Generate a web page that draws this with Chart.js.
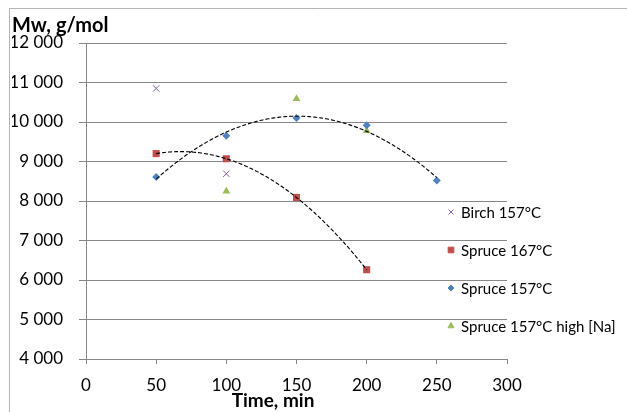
<!DOCTYPE html>
<html lang="en">
<head>
  <meta charset="UTF-8">
  <title>Mw vs time</title>
  <style>
    body { margin: 0; background: #fff; }
    #wrap { width: 627px; height: 412px; position: relative; }
  </style>
</head>
<body>
  <div id="wrap"><canvas id="mwChart"></canvas></div>

  <script src="https://cdn.jsdelivr.net/npm/chart.js"></script>
  <script>
    // Measured Mw (g/mol) against cooking time (min)
    const timeBirch157 = [50, 100];
    const mwBirch157 = [10850, 8690];

    const timeSpruce167 = [50, 100, 150, 200];
    const mwSpruce167 = [9200, 9070, 8090, 6260];

    const timeSpruce157 = [50, 100, 150, 200, 250];
    const mwSpruce157 = [8610, 9650, 10100, 9920, 8520];

    const timeSpruceNa = [100, 150, 200];
    const mwSpruceNa = [8250, 10590, 9780];

    const seriesNames = ['Birch 157°C', 'Spruce 167°C', 'Spruce 157°C', 'Spruce 157°C high [Na]'];
    const xTicks = [0, 50, 100, 150, 200, 250, 300];
    const yTicks = [4000, 5000, 6000, 7000, 8000, 9000, 10000, 11000, 12000];
    const xTitle = 'Time, min';

    const FONT = 'Lato, "Open Sans", sans-serif';
    const GRID = '#878787';

    const toPoints = (xs, ys) => xs.map((x, i) => ({ x: x, y: ys[i] }));
    const fmtThousands = v => String(v).replace(/\B(?=(\d{3})+(?!\d))/g, ' ');

    // least squares 2nd order polynomial, returns [a, b, c] for a + b x + c x^2
    function quadFit(xs, ys) {
      let n = xs.length, sx = 0, sx2 = 0, sx3 = 0, sx4 = 0, sy = 0, sxy = 0, sx2y = 0;
      for (let i = 0; i < n; i++) {
        const x = xs[i], y = ys[i];
        sx += x; sx2 += x * x; sx3 += x * x * x; sx4 += x * x * x * x;
        sy += y; sxy += x * y; sx2y += x * x * y;
      }
      const M = [[n, sx, sx2, sy], [sx, sx2, sx3, sxy], [sx2, sx3, sx4, sx2y]];
      for (let c = 0; c < 3; c++) {
        for (let r = c + 1; r < 3; r++) {
          const f = M[r][c] / M[c][c];
          for (let k = c; k < 4; k++) M[r][k] -= f * M[c][k];
        }
      }
      const s = [0, 0, 0];
      for (let r = 2; r >= 0; r--) {
        let v = M[r][3];
        for (let k = r + 1; k < 3; k++) v -= M[r][k] * s[k];
        s[r] = v / M[r][r];
      }
      return s;
    }

    const trends = [
      { xs: timeSpruce167, coef: quadFit(timeSpruce167, mwSpruce167) },
      { xs: timeSpruce157, coef: quadFit(timeSpruce157, mwSpruce157) }
    ];

    // dashed black trend curves, drawn through the chart scales
    const trendPlugin = {
      id: 'trendCurves',
      afterDatasetsDraw(chart) {
        const { ctx, scales: { x, y } } = chart;
        ctx.save();
        ctx.strokeStyle = '#000';
        ctx.lineWidth = 1.1;
        ctx.setLineDash([4, 2]);
        trends.forEach(t => {
          const x0 = Math.min(...t.xs), x1 = Math.max(...t.xs);
          ctx.beginPath();
          for (let v = x0; v <= x1 + 0.001; v += 1) {
            const val = t.coef[0] + t.coef[1] * v + t.coef[2] * v * v;
            const px = x.getPixelForValue(v), py = y.getPixelForValue(val);
            if (v === x0) ctx.moveTo(px, py); else ctx.lineTo(px, py);
          }
          ctx.stroke();
        });
        ctx.restore();
      }
    };

    // legend inside the plot area on the right, plus the x axis title
    const legendPlugin = {
      id: 'sideLegend',
      afterDraw(chart) {
        const ctx = chart.ctx;
        ctx.save();
        ctx.font = '15px ' + FONT;
        ctx.textBaseline = 'middle';
        chart.data.datasets.forEach((ds, i) => {
          if (!ds.legendName) return;
          const yy = 212 + i * 38;
          ctx.fillStyle = ds.backgroundColor;
          ctx.strokeStyle = ds.borderColor;
          ctx.lineWidth = 1;
          Chart.helpers.drawPoint(ctx, {
            pointStyle: ds.pointStyle, radius: ds.legendRadius, rotation: 0, borderWidth: 1
          }, 451, yy);
          ctx.fillStyle = '#000';
          ctx.fillText(ds.legendName, 461, yy + 1);
        });

        ctx.font = 'bold 19px ' + FONT;
        ctx.textAlign = 'center';
        ctx.fillText(xTitle, 273, 401);
        ctx.restore();
      }
    };

    // frame lines along the top and left edge
    const framePlugin = {
      id: 'frame',
      beforeDraw(chart) {
        const ctx = chart.ctx;
        ctx.save();
        ctx.fillStyle = '#fff';
        ctx.fillRect(0, 0, chart.width, chart.height);
        ctx.strokeStyle = '#b4b4b4';
        ctx.lineWidth = 1;
        ctx.beginPath();
        ctx.moveTo(9.5, chart.height);
        ctx.lineTo(9.5, 8.5);
        ctx.lineTo(chart.width, 8.5);
        ctx.stroke();
        ctx.restore();
      }
    };

    new Chart(document.getElementById('mwChart'), {
      type: 'scatter',
      data: {
        datasets: [
          {
            legendName: seriesNames[0],
            data: toPoints(timeBirch157, mwBirch157),
            pointStyle: 'crossRot', pointRadius: 4.5, legendRadius: 3.5,
            borderColor: '#8064A2', backgroundColor: '#8064A2', pointBorderWidth: 1
          },
          {
            legendName: seriesNames[1],
            data: toPoints(timeSpruce167, mwSpruce167),
            pointStyle: 'rect', pointRadius: 5, legendRadius: 4,
            borderColor: '#C0504D', backgroundColor: '#C0504D', pointBorderWidth: 0
          },
          {
            legendName: seriesNames[2],
            data: toPoints(timeSpruce157, mwSpruce157),
            pointStyle: 'rectRot', pointRadius: 4, legendRadius: 3,
            borderColor: '#4F81BD', backgroundColor: '#4F81BD', pointBorderWidth: 0
          },
          {
            legendName: seriesNames[3],
            data: toPoints(timeSpruceNa, mwSpruceNa),
            pointStyle: 'triangle', pointRadius: 4.5, legendRadius: 3.5,
            borderColor: '#9BBB59', backgroundColor: '#9BBB59', pointBorderWidth: 0
          }
        ]
      },
      options: {
        responsive: true,
        maintainAspectRatio: false,
        animation: false,
        events: [],
        layout: { padding: { left: 12, right: 120, top: 4, bottom: 2 } },
        plugins: {
          legend: { display: false },
          tooltip: { enabled: false },
          title: {
            display: true,
            text: 'Mw, g/mol',
            align: 'start',
            color: '#000',
            font: { family: FONT, size: 20, weight: 'bold' },
            padding: { top: 10, bottom: 5 }
          }
        },
        scales: {
          x: {
            type: 'linear',
            min: 0, max: 300,
            afterBuildTicks: s => { s.ticks = xTicks.map(v => ({ value: v })); },
            afterFit: s => { s.height = 51; },
            ticks: { color: '#000', font: { family: FONT, size: 17, lineHeight: 1 }, padding: 13.5 },
            grid: { drawOnChartArea: false, drawTicks: true, tickLength: 5, color: GRID },
            border: { color: GRID }
          },
          y: {
            min: 4000, max: 12000,
            afterBuildTicks: s => { s.ticks = yTicks.map(v => ({ value: v })); },
            afterFit: s => { s.width = 74; },
            ticks: {
              color: '#000', font: { family: FONT, size: 17 }, padding: 16,
              callback: v => fmtThousands(v)
            },
            grid: { color: GRID, tickLength: 7 },
            border: { color: GRID }
          }
        }
      },
      plugins: [framePlugin, trendPlugin, legendPlugin]
    });
  </script>
</body>
</html>
